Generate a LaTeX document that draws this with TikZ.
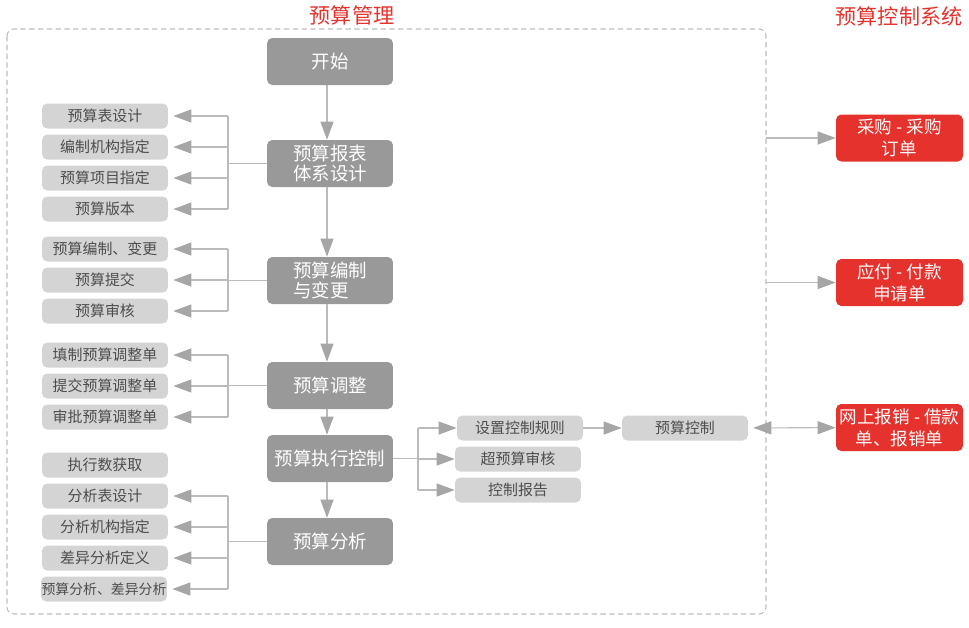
\documentclass[tikz,border=0pt]{standalone}
\usepackage{fontspec}
\setmainfont{Noto Sans CJK SC}
\usetikzlibrary{arrows.meta}
\definecolor{mainbox}{HTML}{999999}
\definecolor{subbox}{HTML}{D4D4D4}
\definecolor{subtext}{HTML}{4D4D4D}
\definecolor{sysred}{HTML}{E5322D}
\definecolor{linegray}{HTML}{BBBBBB}
\definecolor{tipgray}{HTML}{A6A6A6}
\definecolor{framegray}{HTML}{BDBDBD}

\tikzset{
  stage/.style={fill=mainbox, text=white, rounded corners=3pt, minimum width=2.52cm,
    minimum height=0.94cm, inner sep=0pt, align=left, font=\fontsize{10.5pt}{11.5pt}\selectfont},
  item/.style={fill=subbox, text=subtext, rounded corners=3pt, minimum width=2.52cm,
    minimum height=0.5cm, inner sep=0pt, font=\fontsize{8.5pt}{10pt}\selectfont},
  sys/.style={fill=sysred, text=white, rounded corners=3pt, minimum width=2.54cm,
    minimum height=0.94cm, inner sep=0pt, align=center, font=\fontsize{10pt}{12.5pt}\selectfont},
  heading/.style={text=sysred, font=\fontsize{12pt}{14pt}\selectfont},
  link/.style={draw=linegray, line width=0.6pt},
  tip/.tip={Triangle[length=3.6mm,width=2.6mm,color=tipgray]},
  arr/.style={link, -tip}
}

\begin{document}
\begin{tikzpicture}[x=0.02cm,y=-0.02cm]
\useasboundingbox (0,0) rectangle (969,627);

% frame and titles
\draw[framegray, line width=0.6pt, dash pattern=on 3pt off 2pt, rounded corners=4pt] (7,29) rectangle (766,614);
\node[heading] (mgmt) at (352,15) {预算管理};
\node[heading] (ctrlsys) at (899,16) {预算控制系统};

% main flow
\node[stage] (start)  at (330,61.5)  {开始};
\node[stage] (design) at (330,163.5) {预算报表\\体系设计};
\node[stage] (prep)   at (330,280.5) {预算编制\\与变更};
\node[stage] (adjust) at (330,385.5) {预算调整};
\node[stage] (exec)   at (330,458.5) {预算执行控制};
\node[stage] (anal)   at (330,541.5) {预算分析};

\foreach \a/\b in {start/design, design/prep, prep/adjust, adjust/exec, exec/anal}
  \draw[arr] ([xshift=-3*0.02cm]\a.south) -- ([xshift=-3*0.02cm]\b.north);

% left items
\node[item] (d1) at (105,116) {预算表设计};
\node[item] (d2) at (105,147) {编制机构指定};
\node[item] (d3) at (105,178) {预算项目指定};
\node[item] (d4) at (105,209) {预算版本};

\node[item] (p1) at (105,249) {预算编制、变更};
\node[item] (p2) at (105,280) {预算提交};
\node[item] (p3) at (105,311) {预算审核};

\node[item] (a1) at (105,355) {填制预算调整单};
\node[item] (a2) at (105,386) {提交预算调整单};
\node[item] (a3) at (105,417) {审批预算调整单};

\node[item] (n0) at (105,465) {执行数获取};
\node[item] (n1) at (105,496) {分析表设计};
\node[item] (n2) at (105,527) {分析机构指定};
\node[item] (n3) at (105,558) {差异分析定义};
\node[item, font=\fontsize{7.9pt}{9pt}\selectfont] (n4) at (104,589) {预算分析、差异分析};

\coordinate (jd) at (228,163.5);
\coordinate (jp) at (228,280.5);
\coordinate (ja) at (228,385.5);
\coordinate (jn) at (228,541.5);

\draw[link] (design.west) -- (jd);
\draw[link] (jd |- d1) -- (jd |- d4);
\foreach \n in {d1,d2,d3,d4} \draw[arr, shorten >=1mm] (jd |- \n) -- (\n);

\draw[link] (prep.west) -- (jp);
\draw[link] (jp |- p1) -- (jp |- p3);
\foreach \n in {p1,p2,p3} \draw[arr, shorten >=1mm] (jp |- \n) -- (\n);

\draw[link] (adjust.west) -- (ja);
\draw[link] (ja |- a1) -- (ja |- a3);
\foreach \n in {a1,a2,a3} \draw[arr, shorten >=1mm] (ja |- \n) -- (\n);

\draw[link] (anal.west) -- (jn);
\draw[link] (jn |- n1) -- (jn |- n4);
\foreach \n in {n1,n2,n3,n4} \draw[arr, shorten >=1mm] (jn |- \n) -- (\n);

% control branch
\node[item] (rule) at (520,428) {设置控制规则};
\node[item] (over) at (518,459) {超预算审核};
\node[item] (rep)  at (518,490) {控制报告};
\node[item] (ctrl) at (685,428) {预算控制};

\coordinate (je) at (418,458.5);
\draw[link] (exec.east) -- (je);
\draw[link] (je |- rule) -- (je |- rep);
\foreach \n in {rule,over,rep} \draw[arr] (je |- \n) -- (\n);
\draw[arr] (rule) -- (ctrl);

% budget control system
\node[sys] (po)  at (899.5,138)   {采购 - 采购\\订单};
\node[sys] (ap)  at (899.5,282.5) {应付 - 付款\\申请单};
\node[sys] (exp) at (899.5,427.5) {网上报销 - 借款\\单、报销单};

\coordinate (f1) at (766,138);
\coordinate (f2) at (766,282.5);
\draw[arr] (f1) -- (po);
\draw[arr] (f2) -- (ap);
\draw[link, tip-tip, shorten <=1mm] (ctrl) -- (exp);
\end{tikzpicture}
\end{document}
